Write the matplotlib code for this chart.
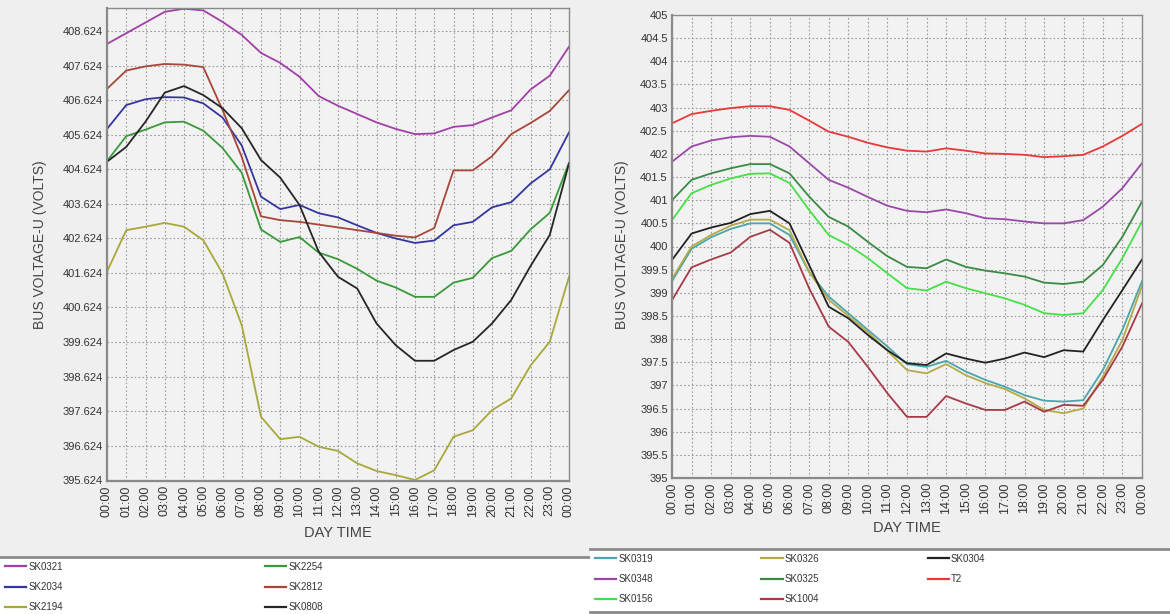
import matplotlib
matplotlib.use("Agg")
import matplotlib.pyplot as plt
from matplotlib.lines import Line2D
import numpy as np

plt.rcParams['font.family'] = ['Liberation Sans', 'DejaVu Sans']

# ---------------- data ----------------
hours = list(range(25))
hour_labels = ["%02d:00" % h for h in range(24)] + ["00:00"]

# left chart
left_names = ["SK0321", "SK2034", "SK2194", "SK2254", "SK2812", "SK0808"]
sk0321 = [408.25, 408.56, 408.87, 409.18, 409.27, 409.22, 408.89, 408.51, 407.99, 407.70, 407.30, 406.74,
          406.46, 406.22, 405.98, 405.79, 405.64, 405.66, 405.85, 405.90, 406.12, 406.33, 406.93, 407.33, 408.17]
sk2034 = [405.79, 406.48, 406.65, 406.71, 406.70, 406.53, 406.12, 405.31, 403.83, 403.47, 403.59, 403.35,
          403.23, 403.00, 402.78, 402.62, 402.49, 402.56, 403.00, 403.10, 403.52, 403.67, 404.21, 404.62, 405.69]
sk2194 = [401.66, 402.86, 402.96, 403.07, 402.96, 402.57, 401.61, 400.11, 397.46, 396.81, 396.88, 396.59,
          396.47, 396.11, 395.89, 395.77, 395.63, 395.91, 396.88, 397.07, 397.65, 397.99, 398.94, 399.63, 401.51]
sk2254 = [404.86, 405.58, 405.77, 405.98, 406.00, 405.74, 405.24, 404.52, 402.88, 402.52, 402.66, 402.21,
          402.02, 401.74, 401.40, 401.20, 400.93, 400.93, 401.34, 401.48, 402.05, 402.26, 402.88, 403.36, 404.81]
sk2812 = [406.95, 407.48, 407.60, 407.67, 407.65, 407.58, 406.34, 404.98, 403.26, 403.15, 403.10, 403.02,
          402.94, 402.86, 402.78, 402.70, 402.65, 402.92, 404.59, 404.59, 405.00, 405.64, 405.96, 406.31, 406.91]
sk0808 = [404.84, 405.27, 406.00, 406.84, 407.03, 406.77, 406.39, 405.81, 404.89, 404.38, 403.59, 402.23,
          401.51, 401.17, 400.16, 399.53, 399.08, 399.08, 399.39, 399.63, 400.16, 400.84, 401.82, 402.72, 404.79]
left_series = [sk0321, sk2034, sk2194, sk2254, sk2812, sk0808]
left_colors = ["#a23fa6", "#3535a0", "#a8a83a", "#3a9a3a", "#a84638", "#262626"]
left_yticks = [395.624 + k for k in range(14)]

# right chart
right_names = ["SK0319", "SK0348", "SK0156", "SK0326", "SK0325", "SK1004", "SK0304", "T2"]
sk0319 = [399.25, 399.95, 400.20, 400.38, 400.50, 400.50, 400.25, 399.45, 398.92, 398.56, 398.20, 397.84,
          397.46, 397.40, 397.53, 397.30, 397.12, 396.97, 396.79, 396.67, 396.65, 396.68, 397.33, 398.20, 399.25]
sk0348 = [401.83, 402.16, 402.29, 402.36, 402.39, 402.37, 402.16, 401.80, 401.44, 401.27, 401.07, 400.88,
          400.77, 400.74, 400.80, 400.72, 400.61, 400.59, 400.54, 400.50, 400.50, 400.57, 400.86, 401.26, 401.80]
sk0156 = [400.57, 401.15, 401.33, 401.47, 401.57, 401.58, 401.37, 400.79, 400.25, 400.03, 399.75, 399.42,
          399.10, 399.05, 399.24, 399.10, 398.99, 398.88, 398.74, 398.56, 398.52, 398.56, 399.06, 399.75, 400.54]
sk0326 = [399.30, 400.00, 400.25, 400.45, 400.58, 400.58, 400.35, 399.45, 398.85, 398.50, 398.15, 397.75,
          397.33, 397.26, 397.46, 397.22, 397.05, 396.92, 396.72, 396.47, 396.40, 396.50, 397.19, 397.98, 399.15]
sk0325 = [401.00, 401.44, 401.58, 401.69, 401.78, 401.78, 401.58, 401.08, 400.64, 400.43, 400.10, 399.79,
          399.56, 399.53, 399.72, 399.56, 399.48, 399.42, 399.35, 399.22, 399.19, 399.24, 399.60, 400.21, 400.97]
sk1004 = [398.84, 399.55, 399.72, 399.87, 400.21, 400.36, 400.08, 399.10, 398.27, 397.94, 397.40, 396.83,
          396.32, 396.32, 396.77, 396.61, 396.47, 396.47, 396.65, 396.43, 396.58, 396.56, 397.12, 397.84, 398.77]
sk0304 = [399.71, 400.28, 400.41, 400.51, 400.70, 400.77, 400.50, 399.60, 398.70, 398.45, 398.09, 397.76,
          397.48, 397.44, 397.69, 397.58, 397.49, 397.58, 397.71, 397.61, 397.76, 397.73, 398.41, 399.06, 399.72]
t2 = [402.66, 402.86, 402.93, 402.99, 403.03, 403.03, 402.95, 402.72, 402.48, 402.37, 402.24, 402.14,
      402.07, 402.05, 402.12, 402.07, 402.01, 402.00, 401.98, 401.93, 401.95, 401.98, 402.16, 402.39, 402.65]
right_series = [sk0319, sk0348, sk0156, sk0326, sk0325, sk1004, sk0304, t2]
right_colors = ["#4aa6ac", "#9a48a8", "#45e045", "#b4aa48", "#3a8a44", "#a83a48", "#222222", "#e83838"]
right_yticks = [395 + 0.5 * k for k in range(21)]

# ---------------- figure ----------------
W, H = 1170, 614
fig = plt.figure(figsize=(W / 100, H / 100), dpi=100, facecolor="#efefef")


def px_axes(x0, y0, x1, y1):
    return fig.add_axes([x0 / W, 1 - y1 / H, (x1 - x0) / W, (y1 - y0) / H])


def style(ax, yticks, fmt, ylim):
    ax.set_facecolor("#f2f2f2")
    ax.set_xlim(0, 24)
    ax.set_ylim(*ylim)
    ax.set_xticks(hours)
    ax.set_xticklabels(hour_labels, rotation=90, fontsize=9, color="#333333")
    ax.set_yticks(yticks)
    ax.set_yticklabels([fmt(v) for v in yticks], fontsize=8, color="#333333")
    ax.tick_params(length=0, pad=3)
    ax.grid(True, color="#9a9a9a", linestyle=(0, (1.5, 2)), linewidth=0.8)
    ax.set_axisbelow(True)
    for s in ax.spines.values():
        s.set_color("#8a8a8a")
        s.set_linewidth(1.0)
    ax.spines["left"].set_linewidth(1.6)
    ax.spines["bottom"].set_linewidth(1.6)


# left chart
axL = px_axes(107, 8, 569, 481)
style(axL, left_yticks, lambda v: "%.3f" % v, (395.60, 409.29))
for ys, c, n in zip(left_series, left_colors, left_names):
    axL.plot(hours, ys, color=c, lw=1.3, label=n)
fig.text(40 / W, 1 - 245 / H, "BUS VOLTAGE-U (VOLTS)", rotation=90, ha="center", va="center",
         fontsize=10, color="#444444")
fig.text(338 / W, 1 - 533 / H, "DAY TIME", ha="center", va="center", fontsize=10.5, color="#444444")

# right chart
axR = px_axes(672, 15, 1142, 478)
style(axR, right_yticks, lambda v: "%g" % v, (395, 405))
for ys, c, n in zip(right_series, right_colors, right_names):
    axR.plot(hours, ys, color=c, lw=1.3, label=n)
fig.text(622 / W, 1 - 245 / H, "BUS VOLTAGE-U (VOLTS)", rotation=90, ha="center", va="center",
         fontsize=10, color="#444444")
fig.text(907 / W, 1 - 528 / H, "DAY TIME", ha="center", va="center", fontsize=10.5, color="#444444")

# legend panels
def legend_panel(x0, y0, x1, y1, names, colors, ncol, width_frac, bottom_line, spacing):
    lax = px_axes(x0, y0, x1, y1)
    lax.set_facecolor("white")
    lax.set_xticks([])
    lax.set_yticks([])
    for k, s in lax.spines.items():
        s.set_visible(k == "top" or (bottom_line and k == "bottom"))
        s.set_color("#8a8a8a")
        s.set_linewidth(2.0)
    handles = [Line2D([0], [0], color=c, lw=1.6) for c in colors]
    leg = lax.legend(handles, names, loc="upper left", bbox_to_anchor=(0.0, 1.0, width_frac, 0.0),
                     mode="expand", ncol=ncol, frameon=False, fontsize=7, handlelength=2.2,
                     handletextpad=0.2, labelspacing=spacing, borderaxespad=0.3, borderpad=0.2)
    for t in leg.get_texts():
        t.set_color("#333333")
    return lax


legend_panel(0, 557, 590, 614, left_names, left_colors, 2, 0.555, False, 1.05)
legend_panel(590, 549, 1170, 612, right_names, right_colors, 3, 0.69, True, 1.05)

fig.savefig("out.png", dpi=100, facecolor=fig.get_facecolor())
